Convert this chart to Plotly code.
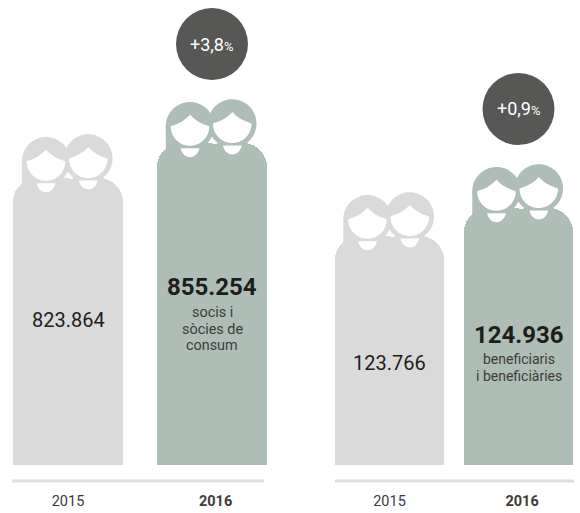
import plotly.graph_objects as go

W, H = 580, 513
years = ["2015", "2016"]
socis = [823864, 855254]
beneficiaris = [123766, 124936]
socis_labels = ["823.864", "855.254"]
benef_labels = ["123.766", "124.936"]
socis_change = "+3,8"
benef_change = "+0,9"
socis_caption = ["socis i", "sòcies de", "consum"]
benef_caption = ["beneficiaris", "i beneficiàries"]

GREY, GREEN, DARK = "#dadada", "#aebdb5", "#575756"
INK = "#1d1d1b"
FONT = "Roboto"
colors = [GREY, GREEN]


def px_path(cmds):
    out = []
    for c, pts in cmds:
        out.append(c + " ".join(f"{x:.2f},{-y:.2f}" for x, y in pts))
    return " ".join(out)


def circle_cmds(cx, cy, r):
    k = 0.5523 * r
    return [("M", [(cx - r, cy)]),
            ("C", [(cx - r, cy - k), (cx - k, cy - r), (cx, cy - r)]),
            ("C", [(cx + k, cy - r), (cx + r, cy - k), (cx + r, cy)]),
            ("C", [(cx + r, cy + k), (cx + k, cy + r), (cx, cy + r)]),
            ("C", [(cx - k, cy + r), (cx - r, cy + k), (cx - r, cy)]),
            ("Z", [])]


def face_cmds(cx, cy):
    r, b = 19.3, 19.5
    return [("M", [(cx - r, cy)]),
            ("Q", [(cx - 7, cy - 3.5), (cx, cy - 11.5)]),
            ("Q", [(cx + 7, cy - 3.5), (cx + r, cy)]),
            ("C", [(cx + r, cy + b * .56), (cx + r * .56, cy + b), (cx, cy + b)]),
            ("C", [(cx - r * .56, cy + b), (cx - r, cy + b * .56), (cx - r, cy)]),
            ("Z", [])]


def neck_cmds(cx, cy):
    return [("M", [(cx - 9.5, cy + 22)]), ("L", [(cx + 9.5, cy + 22)]),
            ("C", [(cx + 6.5, cy + 34), (cx - 6.5, cy + 34), (cx - 9.5, cy + 22)]), ("Z", [])]


def people(xref, yref, i, value, color):
    base = dict(type="path", xref=xref, yref=yref, xsizemode="pixel", ysizemode="pixel",
                xanchor=i, yanchor=value, line_width=0, layer="above")
    lx, ly, rx, ry = -22.0, -16.8, 20.3, -19.5
    out = []
    hair = circle_cmds(lx, ly, 24.2)
    hang = [("M", [(lx - 24.2, ly)]), ("L", [(lx - 24.2, 8)]), ("L", [(lx - 12, 8)]),
            ("L", [(lx - 12, ly)]), ("Z", [])]
    for cmds, fill in [(hair, color), (hang, color), (circle_cmds(rx, ry, 24.2), color),
                       (face_cmds(lx, ly), "white"), (face_cmds(rx, ry), "white"),
                       (neck_cmds(lx, ly), "white"), (neck_cmds(rx, ry), "white"),
                       ([("M", [(0.5, -4)]), ("L", [(0.5, 1)]), ("L", [(5.5, 1)]), ("Z", [])], "white")]:
        out.append(dict(base, path=px_path(cmds), fillcolor=fill))
    return out


def badge(xref, yref, i, value):
    return dict(type="circle", xref=xref, yref=yref, xsizemode="pixel", ysizemode="pixel",
                xanchor=i, yanchor=value, x0=-36, x1=36, y0=99 - 36, y1=99 + 36,
                fillcolor=DARK, line_width=0, layer="above")


def note(xref, yref, i, value, text, shift, size, color=INK, bold=False):
    return dict(xref=xref, yref=yref, x=i, y=value, yshift=shift, text=f"<b>{text}</b>" if bold else text,
                showarrow=False, xanchor="center", yanchor="middle",
                font=dict(family=FONT, size=size, color=color))


panels = [
    dict(x="x", y="y", values=socis, labels=socis_labels, floor=566464, top=983503,
         dom=(12, 267), rule=(12, 264), c0=68, step=144, bw=110, change=socis_change,
         caption=socis_caption, label_shift=(142, 144), cap_start=-169.5, cap_step=16.6, cap_size=14.4),
    dict(x="x2", y="y2", values=beneficiaris, labels=benef_labels, floor=114197, top=133627,
         dom=(335, 574), rule=(335, 574), c0=389.5, step=129, bw=109, change=benef_change,
         caption=benef_caption, label_shift=(127, 127), cap_start=-151, cap_step=17, cap_size=14),
]

fig = go.Figure()
shapes, annos = [], []
for n, p in enumerate(panels):
    fig.add_trace(go.Bar(
        x=years, y=p["values"],
        width=p["bw"] / p["step"], marker=dict(color=colors, cornerradius=24, line_width=0),
        xaxis=p["x"], yaxis=p["y"], showlegend=False, hoverinfo="skip"))
    for i, v in enumerate(p["values"]):
        shapes += people(p["x"], p["y"], i, v, colors[i])
        bold = i == 1
        annos.append(note(p["x"], p["y"], i, v, p["labels"][i], -p["label_shift"][i],
                          24 if bold else 20, bold=bold))
    v = p["values"][1]
    shapes.append(badge(p["x"], p["y"], 1, v))
    annos.append(note(p["x"], p["y"], 1, v,
                      f'{p["change"]}<span style="font-size:13px">%</span>', 99, 18, color="white"))
    for k, line in enumerate(p["caption"]):
        annos.append(note(p["x"], p["y"], 1, v, line, p["cap_start"] - k * p["cap_step"], p["cap_size"], color="#3c3c3b"))
    shapes.append(dict(type="line", xref="paper", yref="paper", x0=p["rule"][0] / W, x1=p["rule"][1] / W,
                       y0=1 - 481 / H, y1=1 - 481 / H, line=dict(color="#dedede", width=3), layer="below"))
    axis = dict(domain=[p["dom"][0] / W, p["dom"][1] / W],
                range=[(p["dom"][0] - p["c0"]) / p["step"], (p["dom"][1] - p["c0"]) / p["step"]],
                anchor="free", position=1 - 481 / H, type="category", categoryorder="array",
                categoryarray=years, tickmode="array", tickvals=years,
                ticktext=["2015", "&nbsp;&nbsp;<b>2016</b>"],
                showline=False, showgrid=False, zeroline=False,
                ticks="outside", ticklen=7, tickcolor="rgba(0,0,0,0)",
                tickfont=dict(family=FONT, size=14.5, color="#3c3c3b"), fixedrange=True)
    yaxis = dict(domain=[1 - 465 / H, 1], range=[p["floor"], p["top"]], visible=False,
                 anchor=p["x"], fixedrange=True)
    suffix = "" if n == 0 else "2"
    fig.update_layout({f"xaxis{suffix}": axis, f"yaxis{suffix}": yaxis})

fig.update_layout(width=W, height=H, margin=dict(l=0, r=0, t=0, b=0), autosize=False,
                  paper_bgcolor="white", plot_bgcolor="white", shapes=shapes, annotations=annos,
                  bargap=0)
fig.write_html("out.html", config={"displayModeBar": False},
               post_script="document.body.style.margin='0';document.body.style.overflow='hidden';")
